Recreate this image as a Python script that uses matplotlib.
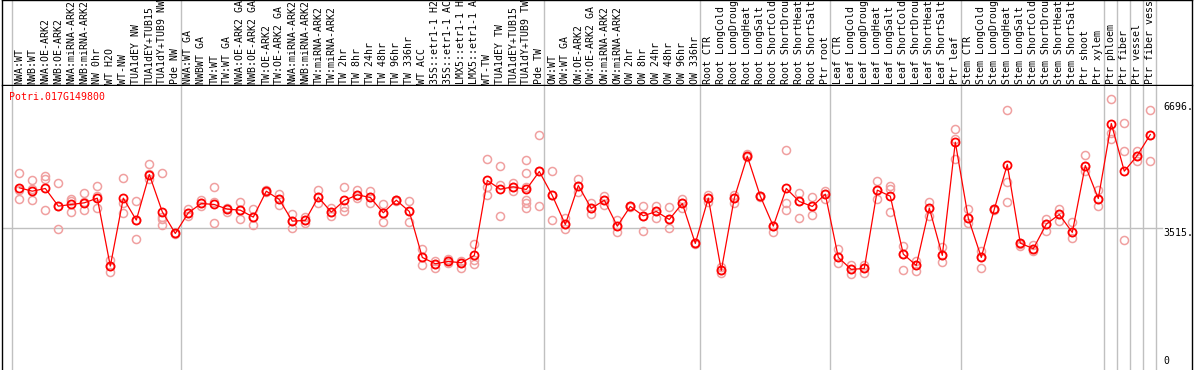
import matplotlib
matplotlib.use("Agg")
import matplotlib.pyplot as plt

gene = "Potri.017G149800"

labels = [
    "NWA:WT", "NWB:WT", "NWA:OE-ARK2", "NWB:OE-ARK2", "NWA:miRNA-ARK2",
    "NWB:miRNA-ARK2", "NW 0hr", "WT H2O", "WT-NW", "TUA1dEY NW",
    "TUA1dEY+TUB15", "TUA1dY+TUB9 NW", "Pde NW",
    "NWA:WT GA", "NWBWT GA", "TW:WT", "TW:WT GA", "NWA:OE-ARK2 GA",
    "NWB:OE-ARK2 GA", "TW:OE-ARK2", "TW:OE-ARK2 GA", "NWA:miRNA-ARK2",
    "NWB:miRNA-ARK2", "TW:miRNA-ARK2", "TW:miRNA-ARK2", "TW 2hr", "TW 8hr",
    "TW 24hr", "TW 48hr", "TW 96hr", "TW 336hr", "WT ACC", "35S::etr1-1 H2",
    "35S::etr1-1 AC", "LMX5::etr1-1 H", "LMX5::etr1-1 A", "WT-TW",
    "TUA1dEY TW", "TUA1dEY+TUB15", "TUA1dY+TUB9 TW", "Pde TW",
    "OW:WT", "OW:WT GA", "OW:OE-ARK2", "OW:OE-ARK2 GA", "OW:miRNA-ARK2",
    "OW:miRNA-ARK2", "OW 2hr", "OW 8hr", "OW 24hr", "OW 48hr", "OW 96hr",
    "OW 336hr",
    "Root CTR", "Root LongCold", "Root LongDroug", "Root LongHeat",
    "Root LongSalt", "Root ShortCold", "Root ShortDrou", "Root ShortHeat",
    "Root ShortSalt", "Ptr root",
    "Leaf CTR", "Leaf LongCold", "Leaf LongDroug", "Leaf LongHeat",
    "Leaf LongSalt", "Leaf ShortCold", "Leaf ShortDrou", "Leaf ShortHeat",
    "Leaf ShortSalt", "Ptr leaf",
    "Stem CTR", "Stem LongCold", "Stem LongDroug", "Stem LongHeat",
    "Stem LongSalt", "Stem ShortCold", "Stem ShortDrou", "Stem ShortHeat",
    "Stem ShortSalt", "Ptr shoot", "Ptr xylem",
    "Ptr phloem", "Ptr fiber", "Ptr vessel", "Ptr fiber vess",
]

means = [
    4525, 4440, 4508, 4062, 4104, 4146, 4264, 2548, 4264, 3709, 4861, 3919, 3372,
    3894, 4129, 4104, 3986, 3961, 3785, 4440, 4230, 3684, 3700, 4289, 3911, 4205,
    4348, 4281, 3894, 4213, 3927, 2767, 2607, 2666, 2632, 2817, 4710, 4491, 4550,
    4483, 4937,
    4331, 3599, 4583, 4003, 4213, 3557, 4054, 3818, 3927, 3726, 4129, 3120,
    4264, 2439, 4264, 5324, 4314, 3557, 4508, 4180, 4054, 4365,
    2767, 2464, 2489, 4466, 4314, 2851, 2565, 4012, 2817, 5677,
    3759, 2767, 3986, 5113, 3129, 2986, 3608, 3852, 3398, 5088, 4255,
    6148, 4945, 5340, 5870,
]

replicates = [
    [4895, 4466, 4239], [4718, 4499, 4205], [4819, 4735, 3953], [4642, 3473, 4070],
    [4247, 4188, 3902], [4390, 4163, 3953], [4567, 4314, 4003], [2700, 2388, 2560],
    [4785, 4129, 3877], [4188, 3221, 3720], [5122, 4760, 4870], [4895, 3793, 3726, 3591],
    [3390, 3350],
    [3995, 3810, 3900], [4205, 4054, 4130], [4541, 4163, 3625], [4003, 3911, 3990],
    [4163, 3726, 3960], [3995, 3591, 3790], [4440, 4460, 4420], [4373, 4079, 4230],
    [3860, 3507, 3684], [3793, 3642, 3700], [4474, 4129, 4290], [4020, 3810, 3911],
    [4558, 4045, 3944], [4466, 4272, 4348], [4440, 4146, 4281], [4104, 3650, 3894],
    [4213, 4200, 4225], [4180, 3650, 3927], [2969, 2565, 2767], [2683, 2506, 2607],
    [2733, 2616, 2666], [2683, 2506, 2632], [3103, 2700, 2599], [5248, 4550, 4356],
    [5088, 4592, 3810], [4634, 4440, 4550], [5223, 4911, 4550, 4213, 4129, 4020],
    [5853, 4054, 4937],
    [4962, 3700, 4331], [3751, 3473, 3599], [4735, 4424, 4583], [4129, 3869, 4003],
    [4314, 4087, 4213], [3709, 3398, 3557], [4054, 4040, 4070], [4070, 3431, 3818],
    [4054, 3768, 3927], [4037, 3499, 3726], [4239, 4012, 4129], [3120, 3110, 3130],
    [4331, 4163, 4264], [2531, 2380, 2439], [4331, 4146, 4264], [5374, 5324, 5300],
    [4314, 4300, 4330], [3398, 3557, 3560], [5475, 4129, 3961], [4398, 3751, 4180],
    [4281, 3827, 4054], [4449, 4230, 4365],
    [2969, 2632, 2767], [2582, 2346, 2464], [2582, 2380, 2489], [4693, 4239, 4466],
    [4567, 4483, 3902], [3053, 2439, 2851], [2674, 2422, 2565], [4163, 3810, 4012],
    [3019, 2658, 2817], [6022, 5752, 5248],
    [3986, 3625, 3759], [2918, 2489, 2767], [3986, 3970, 4000], [6501, 4684, 4155],
    [3044, 3129, 3110], [3070, 2935, 2986], [3742, 3423, 3608], [3995, 3692, 3852],
    [3650, 3263, 3398], [5366, 4945, 5088], [4466, 4070, 4255],
    [6778, 5912, 5761], [6173, 5458, 3196], [5467, 5214, 5340], [6501, 5214, 5870],
]

group_ends = [12, 40, 52, 62, 72, 83, 84, 85, 86, 87]
axis_values = [6696, 3515, 0]

W, H = 1194, 370
fig = plt.figure(figsize=(W / 100, H / 100), dpi=100)
mono = "DejaVu Sans Mono"
grey = "#c0c0c0"
light = "#f0a0a0"

# pixel layout: column i centred at 19.3 + 13 * i
x_left = (2 - 19.3) / 13
x_right = (1192 - 19.3) / 13
scale = 0.0396  # px per unit
y_top = (367 - 86) / scale
y_bot = (367 - 370) / scale

head = fig.add_axes([2 / W, (H - 85) / H, 1190 / W, 85 / H])
ax = fig.add_axes([2 / W, 0, 1190 / W, (H - 86) / H])

for a in (head, ax):
    a.set_xlim(x_left, x_right)
    a.set_xticks([])
    a.set_yticks([])
    for s in a.spines.values():
        s.set_color("black")
        s.set_linewidth(1.0)
ax.spines["top"].set_visible(False)
ax.spines["bottom"].set_visible(False)
head.set_ylim(0, 85)
ax.set_ylim(y_bot, y_top)

seps = [-0.6] + [g + 0.4 for g in group_ends]
for xs in seps:
    head.axvline(xs, color=grey, lw=1)
    ax.axvline(xs, color=grey, lw=1)
ax.plot([x_left, 87.9], [axis_values[1]] * 2, color=grey, lw=1)

for i, lab in enumerate(labels):
    head.text(i, 1.5, lab, rotation=90, ha="center", va="bottom",
              family=mono, fontsize=7.1, color="black")

# replicate points
for i, reps in enumerate(replicates):
    ax.plot([i] * len(reps), reps, "o", ms=5.8, mfc="none", mec=light,
            mew=1.1, zorder=2, clip_on=False)

# means
xs = list(range(len(means)))
ax.plot(xs, means, "-", color="red", lw=0.9, zorder=3)
ax.plot(xs, means, "o", ms=5.8, mfc="none", mec="red", mew=1.3, zorder=4)

ax.text(-0.77, (367 - 97) / scale, gene, color="red", family=mono,
        fontsize=7.1, ha="left", va="center")

xt = (1163 - 19.3) / 13
ax.text(xt, axis_values[0], "%d." % axis_values[0], family=mono, fontsize=7.1,
        ha="left", va="top")
ax.text(xt, axis_values[1], "%d." % axis_values[1], family=mono, fontsize=7.1,
        ha="left", va="top")
ax.text(xt, axis_values[2] + 30, "%d" % axis_values[2], family=mono, fontsize=7.1,
        ha="left", va="bottom")

fig.savefig("out.png", dpi=100)
